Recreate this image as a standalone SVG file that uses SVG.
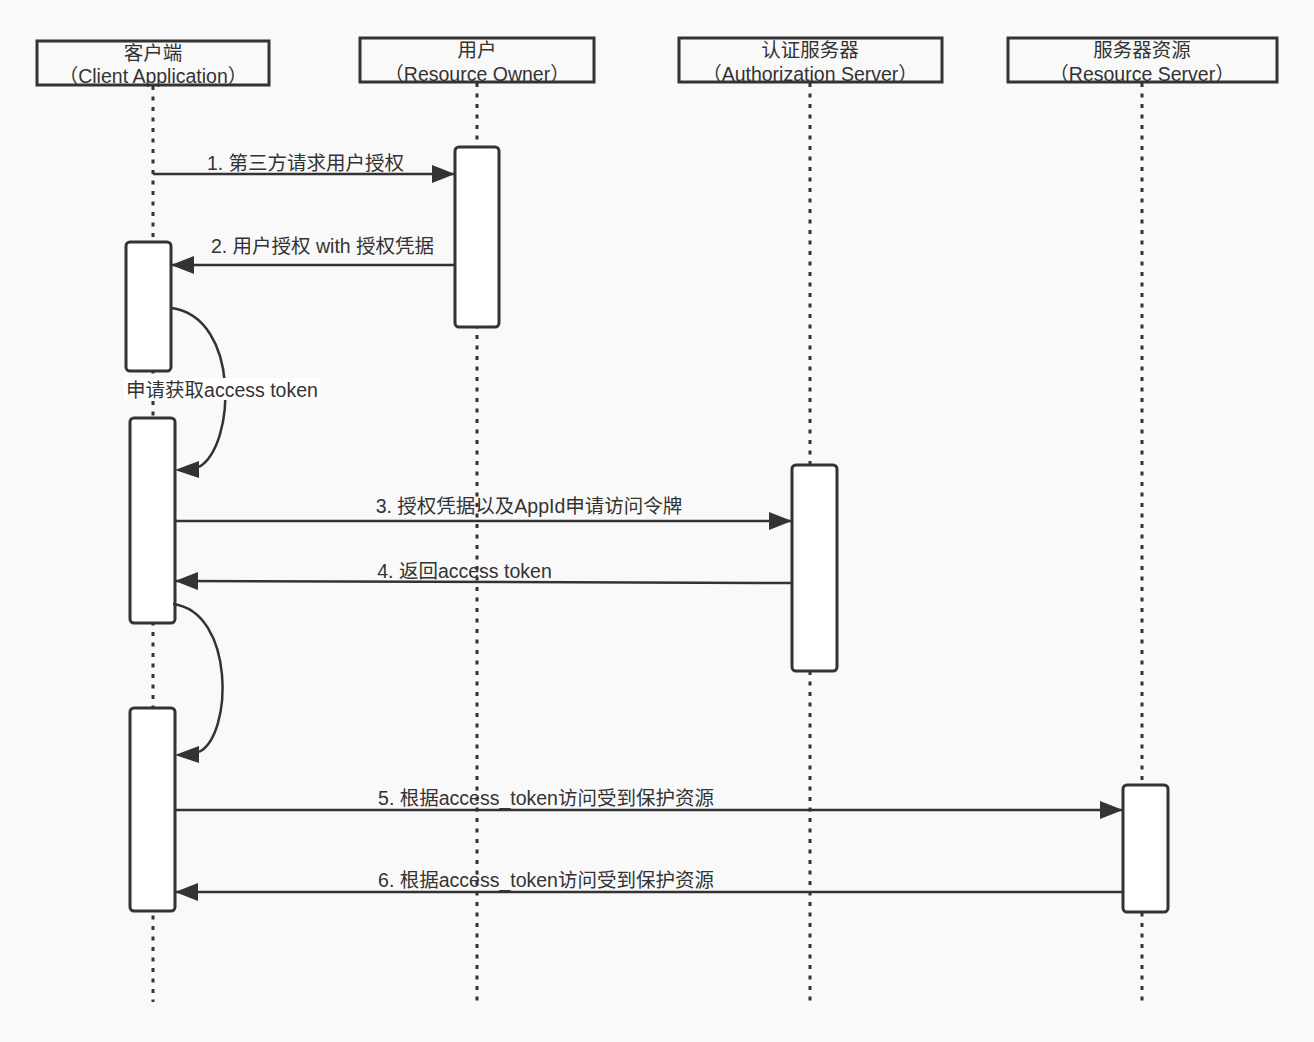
<svg xmlns="http://www.w3.org/2000/svg" width="1314" height="1042" viewBox="0 0 1314 1042">
<style>
text{font-family:"Liberation Sans","Noto Sans CJK SC",sans-serif;font-size:19.5px;fill:#333;}
.t{text-anchor:middle;}
.hdr{fill:#f9f9f9;stroke:#333;stroke-width:3;}
.life{stroke:#333;stroke-width:3;stroke-dasharray:4 6.5;fill:none;}
.act{fill:#fff;stroke:#333;stroke-width:3;}
.msg{stroke:#333;stroke-width:2.5;fill:none;}
.head{fill:#333;}
</style>
<defs>
<marker id="arr" markerUnits="userSpaceOnUse" markerWidth="24" markerHeight="18" refX="23" refY="9" orient="auto">
<path d="M0,0 L23,9 L0,18 Z" fill="#333"/>
</marker>
</defs>
<rect width="1314" height="1042" fill="#f9f9f9"/>
<g id="lifelines">
<line class="life" x1="153" y1="86" x2="153" y2="1002"/>
<line class="life" x1="477" y1="83" x2="477" y2="1002"/>
<line class="life" x1="810" y1="83" x2="810" y2="1002"/>
<line class="life" x1="1142" y1="83" x2="1142" y2="1002"/>
</g>
<g id="client">
<rect class="hdr" x="37" y="41" width="232" height="44"/>
<text class="t" x="153" y="60">客户端</text>
<text class="t" x="153" y="83">（Client Application）</text>
</g>
<g id="owner">
<rect class="hdr" x="360" y="38" width="234" height="44"/>
<text class="t" x="477" y="57">用户</text>
<text class="t" x="477" y="81">（Resource Owner）</text>
</g>
<g id="auth">
<rect class="hdr" x="679" y="38" width="263" height="44"/>
<text class="t" x="810" y="57">认证服务器</text>
<text class="t" x="810" y="81">（Authorization Server）</text>
</g>
<g id="resource">
<rect class="hdr" x="1008" y="38" width="269" height="44"/>
<text class="t" x="1142" y="57">服务器资源</text>
<text class="t" x="1142" y="81">（Resource Server）</text>
</g>
<g id="activations">
<rect class="act" x="455" y="147" width="44" height="180" rx="4"/>
<rect class="act" x="126" y="242" width="45" height="129" rx="4"/>
<rect class="act" x="130" y="418" width="45" height="205" rx="4"/>
<rect class="act" x="792" y="465" width="45" height="206" rx="4"/>
<rect class="act" x="130" y="708" width="45" height="203" rx="4"/>
<rect class="act" x="1123" y="785" width="45" height="127" rx="4"/>
</g>
<g id="connectors">
<line class="msg" x1="153" y1="174" x2="455" y2="174" marker-end="url(#arr)"/>
<line class="msg" x1="455" y1="265" x2="171" y2="265" marker-end="url(#arr)"/>
<path class="msg" d="M172,308 C240,318 236,445 199,467"/>
<polygon class="head" points="175,470 199,461 199,478"/>
<line class="msg" x1="175" y1="521" x2="792" y2="521" marker-end="url(#arr)"/>
<line class="msg" x1="792" y1="583" x2="175" y2="581" marker-end="url(#arr)"/>
<path class="msg" d="M173,604 C235,612 233,735 199,752"/>
<polygon class="head" points="175,755 199,746 199,763"/>
<line class="msg" x1="175" y1="810" x2="1123" y2="810" marker-end="url(#arr)"/>
<line class="msg" x1="1123" y1="892" x2="175" y2="892" marker-end="url(#arr)"/>
</g>
<g id="labels">
<text class="t" x="305.5" y="170">1. 第三方请求用户授权</text>
<text class="t" x="322.5" y="253">2. 用户授权 with 授权凭据</text>
<rect x="124" y="378" width="196" height="22" fill="#fff"/>
<text class="t" x="222" y="397">申请获取access token</text>
<text class="t" x="529" y="513">3. 授权凭据以及AppId申请访问令牌</text>
<text class="t" x="464.5" y="578">4. 返回access token</text>
<text class="t" x="546" y="805">5. 根据access_token访问受到保护资源</text>
<text class="t" x="546" y="887">6. 根据access_token访问受到保护资源</text>
</g>
</svg>
